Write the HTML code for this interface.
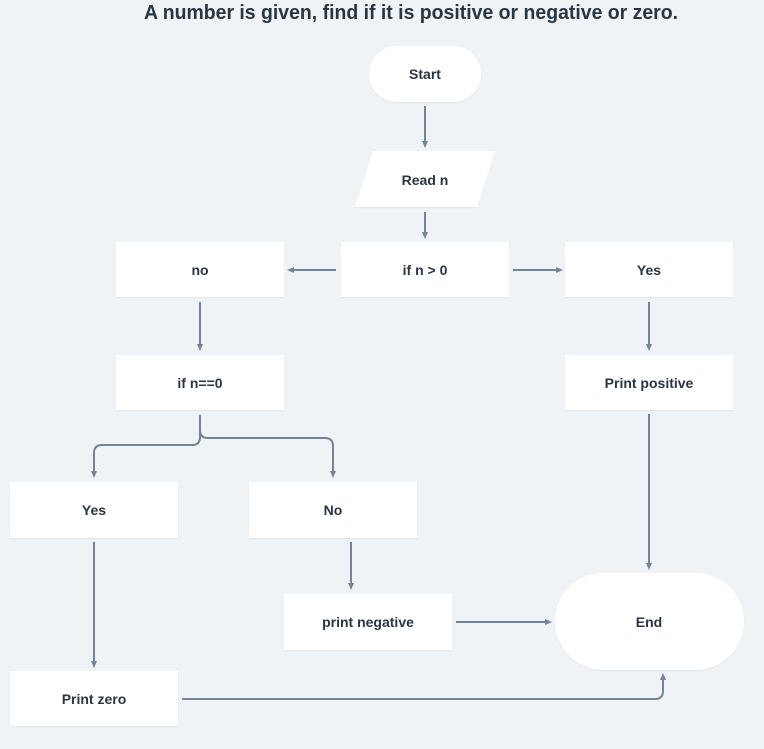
<!DOCTYPE html>
<html><head><meta charset="utf-8"><style>
html,body{margin:0;padding:0;background:#eff3f6;}
svg{display:block}
text{font-family:"Liberation Sans",sans-serif;font-weight:bold;fill:#2a3542;}
</style></head><body>
<svg width="764" height="749" viewBox="0 0 764 749" xmlns="http://www.w3.org/2000/svg">
<defs>
<marker id="a" markerWidth="8" markerHeight="8" refX="4" refY="4" orient="auto" markerUnits="userSpaceOnUse">
<path d="M0,1 L7,4 L0,7 Z" fill="#738496"/></marker>
<filter id="s" x="-5%" y="-5%" width="110%" height="115%"><feDropShadow dx="0" dy="1" stdDeviation="0.6" flood-color="#000" flood-opacity="0.06"/></filter>
</defs>
<rect width="764" height="749" fill="#eff3f6"/>
<text x="411" y="19" font-size="20" text-anchor="middle" textLength="534" lengthAdjust="spacingAndGlyphs">A number is given, find if it is positive or negative or zero.</text>
<g fill="#fff" filter="url(#s)">
<rect x="369" y="46" width="112" height="56" rx="28"/>
<polygon points="373,151 495,151 477,207 355,207"/>
<rect x="116" y="242" width="168" height="55"/>
<rect x="341" y="242" width="168" height="55"/>
<rect x="565" y="242" width="168" height="55"/>
<rect x="116" y="355" width="168" height="55"/>
<rect x="565" y="355" width="168" height="55"/>
<rect x="10" y="482" width="168" height="56"/>
<rect x="249" y="482" width="168" height="56"/>
<rect x="284" y="594" width="168" height="56"/>
<rect x="555" y="573" width="189" height="97" rx="48.5"/>
<rect x="10" y="671" width="168" height="55"/>
</g>
<g font-size="14" text-anchor="middle">
<text x="425" y="79">Start</text>
<text x="425" y="185">Read n</text>
<text x="200" y="275">no</text>
<text x="425" y="275">if n &gt; 0</text>
<text x="649" y="275">Yes</text>
<text x="200" y="388">if n==0</text>
<text x="649" y="388">Print positive</text>
<text x="94" y="515">Yes</text>
<text x="333" y="515">No</text>
<text x="368" y="627">print negative</text>
<text x="649" y="627">End</text>
<text x="94" y="704">Print zero</text>
</g>
<g stroke="#738496" stroke-width="2" fill="none" marker-end="url(#a)">
<path d="M425,106 V145"/>
<path d="M425,212 V236"/>
<path d="M336,270 H290"/>
<path d="M513,270 H560"/>
<path d="M200,302 V348"/>
<path d="M649,302 V348"/>
<path d="M200,415 V437 Q200,445 192,445 H102 Q94,445 94,453 V475"/>
<path d="M200,415 V430 Q200,438 208,438 H325 Q333,438 333,446 V475"/>
<path d="M94,542 V665"/>
<path d="M351,542 V587"/>
<path d="M456,622 H549"/>
<path d="M649,414 V567"/>
<path d="M182,699 H655 Q663,699 663,691 V676"/>
</g>
</svg>
</body></html>
